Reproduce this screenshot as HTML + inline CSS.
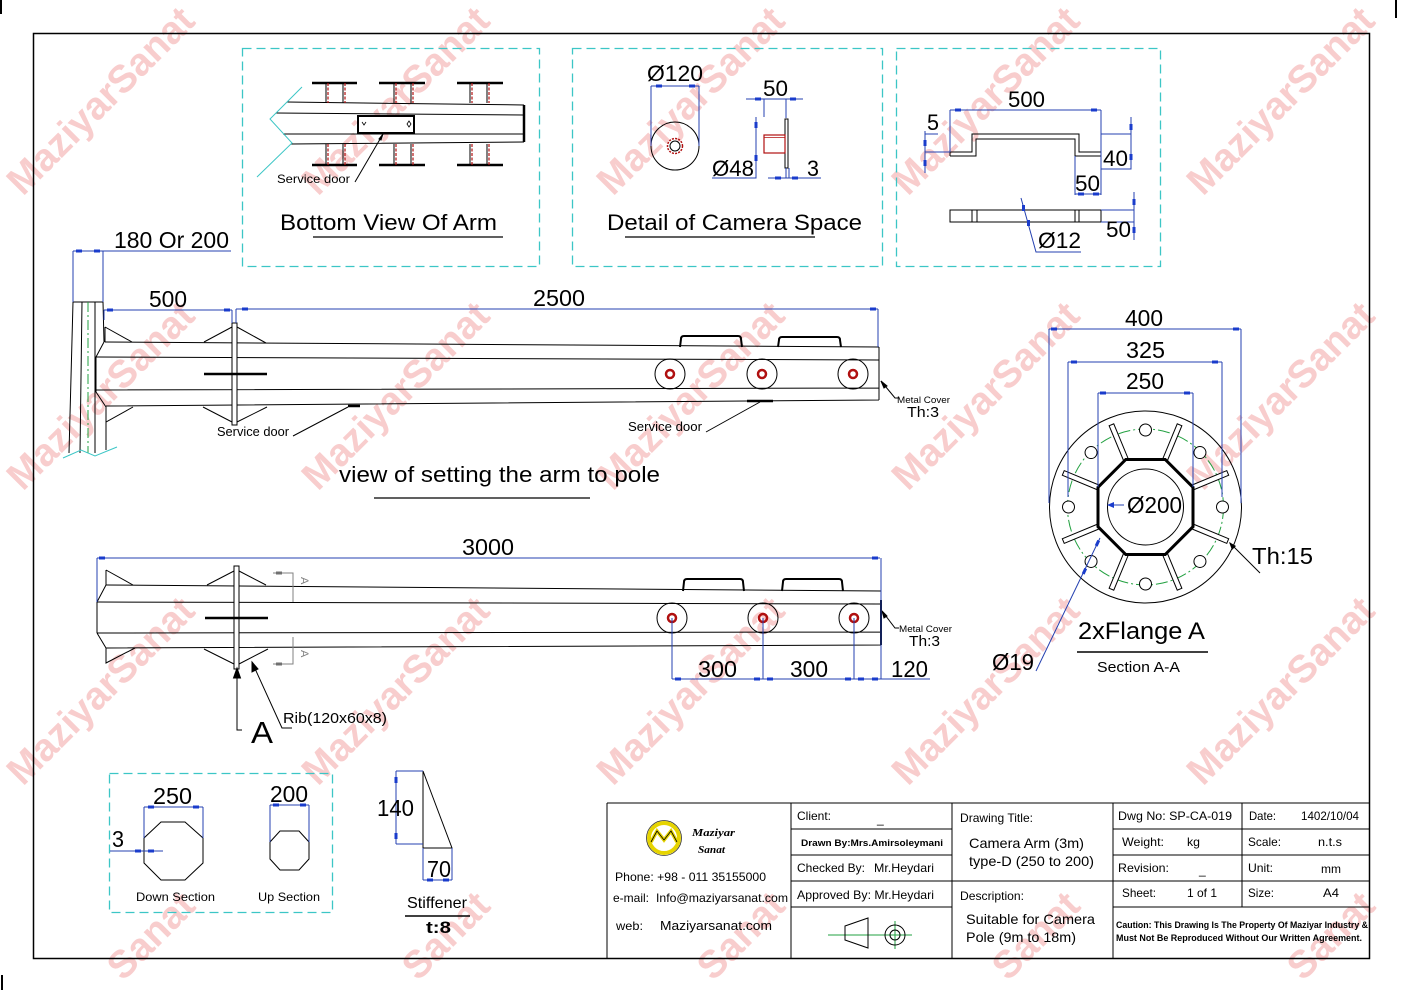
<!DOCTYPE html>
<html><head><meta charset="utf-8">
<style>
html,body{margin:0;padding:0;background:#fff;width:1403px;height:992px;overflow:hidden;}
svg{display:block;}
text{font-family:"Liberation Sans",Arial,sans-serif;fill:#000;}
.k{stroke:#000;fill:none;stroke-width:1}
.b{stroke:#2440b0;fill:none;stroke-width:1}
.c{stroke:#3cc6c6;fill:none;stroke-width:1.3;stroke-dasharray:9 5}
.t{fill:#1a3ccc;stroke:none}
.r{stroke:#b01010;fill:none}
.wm text{font-family:"Liberation Sans",Arial,sans-serif;font-weight:bold;fill:#f8cdcd;}
</style></head><body>
<svg width="1403" height="992" viewBox="0 0 1403 992" xmlns="http://www.w3.org/2000/svg">
<rect width="1403" height="992" fill="#fff"/>

<!-- watermarks -->
<g class="wm" font-size="39" text-anchor="middle">
<text x="100" y="114" transform="rotate(-45 100 100)" textLength="246" lengthAdjust="spacingAndGlyphs">MaziyarSanat</text>
<text x="395" y="114" transform="rotate(-45 395 100)" textLength="246" lengthAdjust="spacingAndGlyphs">MaziyarSanat</text>
<text x="690" y="114" transform="rotate(-45 690 100)" textLength="246" lengthAdjust="spacingAndGlyphs">MaziyarSanat</text>
<text x="985" y="114" transform="rotate(-45 985 100)" textLength="246" lengthAdjust="spacingAndGlyphs">MaziyarSanat</text>
<text x="1280" y="114" transform="rotate(-45 1280 100)" textLength="246" lengthAdjust="spacingAndGlyphs">MaziyarSanat</text>
<text x="100" y="409" transform="rotate(-45 100 395)" textLength="246" lengthAdjust="spacingAndGlyphs">MaziyarSanat</text>
<text x="395" y="409" transform="rotate(-45 395 395)" textLength="246" lengthAdjust="spacingAndGlyphs">MaziyarSanat</text>
<text x="690" y="409" transform="rotate(-45 690 395)" textLength="246" lengthAdjust="spacingAndGlyphs">MaziyarSanat</text>
<text x="985" y="409" transform="rotate(-45 985 395)" textLength="246" lengthAdjust="spacingAndGlyphs">MaziyarSanat</text>
<text x="1280" y="409" transform="rotate(-45 1280 395)" textLength="246" lengthAdjust="spacingAndGlyphs">MaziyarSanat</text>
<text x="100" y="704" transform="rotate(-45 100 690)" textLength="246" lengthAdjust="spacingAndGlyphs">MaziyarSanat</text>
<text x="395" y="704" transform="rotate(-45 395 690)" textLength="246" lengthAdjust="spacingAndGlyphs">MaziyarSanat</text>
<text x="690" y="704" transform="rotate(-45 690 690)" textLength="246" lengthAdjust="spacingAndGlyphs">MaziyarSanat</text>
<text x="985" y="704" transform="rotate(-45 985 690)" textLength="246" lengthAdjust="spacingAndGlyphs">MaziyarSanat</text>
<text x="1280" y="704" transform="rotate(-45 1280 690)" textLength="246" lengthAdjust="spacingAndGlyphs">MaziyarSanat</text>
</g>
<g class="wm" font-size="39" text-anchor="start">
<text x="123" y="982" transform="rotate(-45 123 982)" textLength="105" lengthAdjust="spacingAndGlyphs">Sanat</text>
<text x="418" y="982" transform="rotate(-45 418 982)" textLength="105" lengthAdjust="spacingAndGlyphs">Sanat</text>
<text x="713" y="982" transform="rotate(-45 713 982)" textLength="105" lengthAdjust="spacingAndGlyphs">Sanat</text>
<text x="1008" y="982" transform="rotate(-45 1008 982)" textLength="105" lengthAdjust="spacingAndGlyphs">Sanat</text>
<text x="1303" y="982" transform="rotate(-45 1303 982)" textLength="105" lengthAdjust="spacingAndGlyphs">Sanat</text>
</g>

<!-- frame and corner marks -->
<rect x="33.5" y="33.5" width="1336" height="925" fill="none" stroke="#000" stroke-width="1.5"/>
<path d="M1,0 V14 M1396,0 V18 M2,975 V990" stroke="#000" stroke-width="2"/>

<!-- ===== Panel 1: Bottom View Of Arm ===== -->
<rect x="242.5" y="48.5" width="297" height="218" class="c"/>
<g class="k">
<path d="M312,83 H357 M379,83 H425 M457,83 H503 M312,165 H357 M379,165 H425 M457,165 H503" stroke-width="2.5"/>
<path d="M326,83 V103 M343,83 V103 M394,83 V103 M411,83 V103 M470,83 V103 M487,83 V103 M326,144 V165 M343,144 V165 M394,144 V165 M411,144 V165 M470,144 V165 M487,144 V165"/>
<path d="M287,102 L524,105 M276,113 L524,115 M283,134 L524,134 M291,144 L524,142"/>
<path d="M524,105 V142" stroke-width="2.5"/>
<rect x="358" y="116" width="56" height="17" fill="#fff" stroke-width="2"/>
<path d="M362,122 L364,125 L366,122 M409,121 L411,124 L409,127 L407,124 Z" stroke-width="0.8"/>
<path d="M383,134 L355,182"/>
<path d="M383,134 L379,139 L381,140 Z" fill="#000"/>
</g>
<path d="M328,83 V103 M345,83 V103 M396,83 V103 M413,83 V103 M472,83 V103 M489,83 V103 M328,144 V165 M345,144 V165 M396,144 V165 M413,144 V165 M472,144 V165 M489,144 V165" class="r" stroke-width="1.2" stroke-dasharray="3 1.5"/>
<path d="M302,87 L270,119 L292,143 L257,177" fill="none" stroke="#3cc6c6" stroke-width="1"/>
<text x="277" y="183" font-size="12" textLength="73" lengthAdjust="spacingAndGlyphs">Service door</text>
<text x="280" y="230" font-size="22" textLength="217" lengthAdjust="spacingAndGlyphs">Bottom View Of Arm</text>
<path d="M313,237 H503" stroke="#000" stroke-width="1.2"/>

<!-- ===== Panel 2: Detail of Camera Space ===== -->
<rect x="572.5" y="48.5" width="310" height="218" class="c"/>
<g class="k">
<circle cx="675" cy="146" r="24"/>
<circle cx="675" cy="146" r="5"/>
<rect x="785" y="119" width="3" height="49" fill="#fff"/>
</g>
<circle cx="675" cy="146" r="7.5" class="r" stroke-width="1.5" stroke-dasharray="2 1.2"/>
<rect x="764" y="135" width="21" height="18" class="r" stroke-width="1.2"/>
<path d="M764,137.5 H785" class="r" stroke-width="0.8"/>
<g class="b">
<path d="M651,86 H699 M651,86 V146 M699,86 V146"/>
<path d="M746,99 H803 M764,99 V117 M786,99 V118"/>
<path d="M756,117 V178 H712"/>
<path d="M768,178 H821 M786,168 V178 M789,168 V178"/>
</g>
<g class="t">
<rect x="656" y="84.5" width="6" height="3"/><rect x="689" y="84.5" width="6" height="3"/>
<rect x="755" y="97.5" width="6" height="3"/><rect x="790" y="97.5" width="6" height="3"/>
<rect x="754.5" y="122" width="3" height="6"/><rect x="754.5" y="155" width="3" height="6"/>
<rect x="775" y="176.5" width="6" height="3"/><rect x="792" y="176.5" width="6" height="3"/>
</g>
<text x="647" y="81" font-size="22" textLength="56" lengthAdjust="spacingAndGlyphs">Ø120</text>
<text x="763" y="96" font-size="22" textLength="25" lengthAdjust="spacingAndGlyphs">50</text>
<text x="712" y="176" font-size="22" textLength="42" lengthAdjust="spacingAndGlyphs">Ø48</text>
<text x="807" y="176" font-size="22" textLength="12" lengthAdjust="spacingAndGlyphs">3</text>
<text x="607" y="230" font-size="22" textLength="255" lengthAdjust="spacingAndGlyphs">Detail of Camera Space</text>
<path d="M625,237 H815" stroke="#000" stroke-width="1.2"/>

<!-- ===== Panel 3: bracket ===== -->
<rect x="896.5" y="48.5" width="264" height="218" class="c"/>
<g class="k">
<path d="M950,152 H972 V134 H1079 V152 H1101 M950,156 H976 V139 H1075 V156 H1101 M950,152 V156 M1101,152 V156"/>
<rect x="950" y="210" width="151" height="12"/>
<path d="M972,210 V222 M977,210 V222 M1075,210 V222 M1079,210 V222"/>
</g>
<g class="b">
<path d="M950,110 H1101 M950,110 V152 M1101,110 V195"/>
<path d="M925,131 V173 M925,134 H938 M925,152 H950"/>
<path d="M1131,117 V169 H1101 M1101,134 H1131"/>
<path d="M1075,156 V195 M1075,194 H1101"/>
<path d="M1021,198 L1036,252 H1081"/>
<path d="M1134,192 V240 M1101,210 H1134 M1101,222 H1134"/>
</g>
<g class="t">
<rect x="955" y="108.5" width="6" height="3"/><rect x="1091" y="108.5" width="6" height="3"/>
<rect x="923.5" y="140" width="3" height="6"/><rect x="923.5" y="160" width="3" height="6"/>
<rect x="1129.5" y="124" width="3" height="6"/><rect x="1129.5" y="154" width="3" height="6"/>
<rect x="1078" y="192.5" width="6" height="3"/><rect x="1093" y="192.5" width="6" height="3"/>
<rect x="1022" y="205" width="3" height="6"/><rect x="1027" y="220" width="3" height="6"/>
<rect x="1132.5" y="199" width="3" height="6"/><rect x="1132.5" y="227" width="3" height="6"/>
</g>
<text x="1008" y="107" font-size="22" textLength="37" lengthAdjust="spacingAndGlyphs">500</text>
<text x="927" y="130" font-size="22" textLength="12" lengthAdjust="spacingAndGlyphs">5</text>
<text x="1103" y="166" font-size="22" textLength="25" lengthAdjust="spacingAndGlyphs">40</text>
<text x="1075" y="191" font-size="22" textLength="25" lengthAdjust="spacingAndGlyphs">50</text>
<text x="1038" y="248" font-size="22" textLength="43" lengthAdjust="spacingAndGlyphs">Ø12</text>
<text x="1106" y="237" font-size="22" textLength="25" lengthAdjust="spacingAndGlyphs">50</text>

<!-- ===== View 1: setting arm to pole ===== -->
<g class="k">
<path d="M73,302 L69,453 M82,302 L80,453 M95,302 L95,453 M73,302 H103 M103,302 L104,342 L96,357 L96,392 L106,407 L106,450"/>
<path d="M105,327 V342 M105,327 L132,342 M106,407 V422 L133,407"/>
<path d="M105,342 L879,347 M96,357 L879,360 M96,390 L879,388 M106,406 L879,400 M879,347 V400"/>
<path d="M204,342 L232,327 M237,327 L266,343 M203,407 L232,422 M237,422 L267,407"/>
<rect x="232" y="323" width="5" height="102" fill="#fff"/>
<path d="M204,374 H267" stroke-width="2.5"/>
<path d="M680,347 L681,339 Q681,336 684,336 H738 Q741,336 741,339 L742,347 M778,347 L779,340 Q779,337 782,337 H837 Q840,337 840,340 L841,347" stroke-width="2"/>
<circle cx="670" cy="374" r="15"/><circle cx="762" cy="374" r="15"/><circle cx="853" cy="374" r="15"/>
<path d="M293,436 L348,407 M706,432 L760,402 M881,381 L895,398 H899"/>
<path d="M348,406 H360 M747,401 H773" stroke-width="2.5"/>
<path d="M881,381 L884,388 L887,386 Z" fill="#000"/>
</g>
<g class="r" stroke-width="2.5">
<circle cx="670" cy="374" r="4"/><circle cx="762" cy="374" r="4"/><circle cx="853" cy="374" r="4"/>
</g>
<path d="M88,302 V453" stroke="#22a040" stroke-dasharray="10 3 2 3" fill="none"/>
<path d="M63,458 L81,450 L95,456 L117,447" fill="none" stroke="#3cc6c6"/>
<g class="b">
<path d="M73,251 H231 M73,251 V302 M103,251 V302"/>
<path d="M104,310 H232 M104,310 V320 M232,310 V323"/>
<path d="M236,309 H878 M236,309 V323 M878,309 V347"/>
</g>
<g class="t">
<rect x="76" y="249.5" width="6" height="3"/><rect x="94" y="249.5" width="6" height="3"/>
<rect x="107" y="308.5" width="6" height="3"/><rect x="224" y="308.5" width="6" height="3"/>
<rect x="242" y="307.5" width="6" height="3"/><rect x="870" y="307.5" width="6" height="3"/>
</g>
<text x="114" y="248" font-size="23" textLength="115" lengthAdjust="spacingAndGlyphs">180 Or 200</text>
<text x="149" y="307" font-size="23" textLength="38" lengthAdjust="spacingAndGlyphs">500</text>
<text x="533" y="306" font-size="23" textLength="52" lengthAdjust="spacingAndGlyphs">2500</text>
<text x="217" y="436" font-size="12.5" textLength="72" lengthAdjust="spacingAndGlyphs">Service door</text>
<text x="628" y="431" font-size="12.5" textLength="74" lengthAdjust="spacingAndGlyphs">Service door</text>
<text x="897" y="403" font-size="9.5" textLength="53" lengthAdjust="spacingAndGlyphs">Metal Cover</text>
<text x="907" y="417" font-size="15" textLength="32" lengthAdjust="spacingAndGlyphs">Th:3</text>
<text x="339" y="482" font-size="22" textLength="321" lengthAdjust="spacingAndGlyphs">view of setting the arm to pole</text>
<path d="M374,498 H590" stroke="#000" stroke-width="1.2"/>

<!-- ===== View 2: 3000 ===== -->
<g class="k">
<path d="M97,602 V633 M97,602 L106,585 M97,633 L106,648"/>
<path d="M106,585 L881,591 M97,602 L881,604 M97,633 L881,632 M106,648 L881,645 M881,591 V645"/>
<path d="M881,600 V645" stroke-width="2"/>
<path d="M106,570 V585 M106,570 L133,585 M106,648 V663 L135,648"/>
<path d="M207,585 L234,571 M239,571 L266,585 M204,649 L234,664 M239,664 L268,649"/>
<rect x="234" y="566" width="5" height="103" fill="#fff"/>
<path d="M205,618 H268" stroke-width="2.5"/>
<path d="M683,591 L684,582 Q684,579 687,579 H740 Q743,579 743,582 L744,591 M782,591 L783,582 Q783,579 786,579 H839 Q842,579 842,582 L843,591" stroke-width="2"/>
<circle cx="672" cy="618" r="15"/><circle cx="763" cy="618" r="15"/><circle cx="854" cy="618" r="15"/>
<path d="M237,676 V730 H242"/>
<path d="M237,668 L233.5,678 H240.5 Z" fill="#000"/>
<path d="M252,662 L282,728 H292"/>
<path d="M252,662 L252,672 L258,669 Z" fill="#000"/>
<path d="M882,611 L895,628 H899"/>
<path d="M882,611 L884,618 L887,616 Z" fill="#000"/>
</g>
<g class="r" stroke-width="2.5">
<circle cx="672" cy="618" r="4"/><circle cx="763" cy="618" r="4"/><circle cx="854" cy="618" r="4"/>
</g>
<g stroke="#808080" fill="none">
<path d="M273,573 H293 V602 M273,664 H293 V637"/>
</g>
<g fill="#707070"><rect x="276" y="571.5" width="6" height="3"/><rect x="276" y="662.5" width="6" height="3"/></g>
<text x="296" y="582" font-size="11" transform="rotate(90 301 582)" style="fill:#808080">A</text>
<text x="296" y="655" font-size="11" transform="rotate(90 301 655)" style="fill:#808080">A</text>
<g class="b">
<path d="M97,558 H880 M97,558 V602 M881,558 V679"/>
<path d="M672,618 V679 M763,618 V679 M854,618 V679 M672,679 H930"/>
</g>
<g class="t">
<rect x="99" y="556.5" width="6" height="3"/><rect x="872" y="556.5" width="6" height="3"/>
<rect x="675" y="677.5" width="6" height="3"/><rect x="754" y="677.5" width="6" height="3"/>
<rect x="767" y="677.5" width="6" height="3"/><rect x="845" y="677.5" width="6" height="3"/>
<rect x="858" y="677.5" width="6" height="3"/><rect x="872" y="677.5" width="6" height="3"/>
</g>
<text x="462" y="555" font-size="23" textLength="52" lengthAdjust="spacingAndGlyphs">3000</text>
<text x="698" y="677" font-size="23" textLength="39" lengthAdjust="spacingAndGlyphs">300</text>
<text x="790" y="677" font-size="23" textLength="38" lengthAdjust="spacingAndGlyphs">300</text>
<text x="891" y="677" font-size="23" textLength="37" lengthAdjust="spacingAndGlyphs">120</text>
<text x="899" y="632" font-size="9.5" textLength="53" lengthAdjust="spacingAndGlyphs">Metal Cover</text>
<text x="909" y="646" font-size="15" textLength="31" lengthAdjust="spacingAndGlyphs">Th:3</text>
<text x="251" y="743" font-size="31" textLength="22" lengthAdjust="spacingAndGlyphs">A</text>
<text x="283" y="723" font-size="15" textLength="104" lengthAdjust="spacingAndGlyphs">Rib(120x60x8)</text>

<!-- ===== Flange A ===== -->
<g class="k">
<circle cx="1145.5" cy="507" r="96"/>
</g>
<circle cx="1145.5" cy="507" r="78" fill="none" stroke="#22a040" stroke-dasharray="12 3 2 3"/>
<g class="k" transform="translate(1145.5,507)">
<rect x="51" y="-2.5" width="38" height="5" transform="rotate(-67.5)" fill="#fff"/>
<rect x="51" y="-2.5" width="38" height="5" transform="rotate(-22.5)" fill="#fff"/>
<rect x="51" y="-2.5" width="38" height="5" transform="rotate(22.5)" fill="#fff"/>
<rect x="51" y="-2.5" width="38" height="5" transform="rotate(67.5)" fill="#fff"/>
<rect x="51" y="-2.5" width="38" height="5" transform="rotate(112.5)" fill="#fff"/>
<rect x="51" y="-2.5" width="38" height="5" transform="rotate(157.5)" fill="#fff"/>
<rect x="51" y="-2.5" width="38" height="5" transform="rotate(202.5)" fill="#fff"/>
<rect x="51" y="-2.5" width="38" height="5" transform="rotate(247.5)" fill="#fff"/>
<circle cx="77" cy="0" r="6" transform="rotate(0)" fill="#fff"/>
<circle cx="77" cy="0" r="6" transform="rotate(45)" fill="#fff"/>
<circle cx="77" cy="0" r="6" transform="rotate(90)" fill="#fff"/>
<circle cx="77" cy="0" r="6" transform="rotate(135)" fill="#fff"/>
<circle cx="77" cy="0" r="6" transform="rotate(180)" fill="#fff"/>
<circle cx="77" cy="0" r="6" transform="rotate(225)" fill="#fff"/>
<circle cx="77" cy="0" r="6" transform="rotate(270)" fill="#fff"/>
<circle cx="77" cy="0" r="6" transform="rotate(315)" fill="#fff"/>
<polygon points="-19.7,-47.5 19.7,-47.5 47.5,-19.7 47.5,19.7 19.7,47.5 -19.7,47.5 -47.5,19.7 -47.5,-19.7" fill="#fff" stroke-width="3"/>
<circle cx="0" cy="0" r="38"/>
</g>
<g class="b">
<path d="M1049,329 H1241 M1049,329 V503 M1241,329 V503"/>
<path d="M1068,362 H1222 M1068,362 V497 M1222,362 V497"/>
<path d="M1098,393 H1193 M1098,393 V487 M1193,393 V487"/>
<path d="M1110,505 H1124"/>
<path d="M1100,538 L1036,671"/>
</g>
<path d="M1107,505 L1114,502 L1114,508 Z" fill="#1a3ccc"/>
<g class="t">
<rect x="1051" y="327.5" width="6" height="3"/><rect x="1233" y="327.5" width="6" height="3"/>
<rect x="1071" y="360.5" width="6" height="3"/><rect x="1212" y="360.5" width="6" height="3"/>
<rect x="1100" y="391.5" width="6" height="3"/><rect x="1184" y="391.5" width="6" height="3"/>
<rect x="1096" y="540" width="3" height="6" transform="rotate(25 1097 543)"/>
<rect x="1083" y="568" width="3" height="6" transform="rotate(25 1084 571)"/>
</g>
<path d="M1230,543 L1260,573" stroke="#000" fill="none"/>
<path d="M1229,542 L1232,550 L1236,546 Z" fill="#000"/>
<text x="1125" y="326" font-size="23" textLength="38" lengthAdjust="spacingAndGlyphs">400</text>
<text x="1126" y="358" font-size="23" textLength="39" lengthAdjust="spacingAndGlyphs">325</text>
<text x="1126" y="389" font-size="23" textLength="38" lengthAdjust="spacingAndGlyphs">250</text>
<text x="1127" y="513" font-size="23" textLength="55" lengthAdjust="spacingAndGlyphs">Ø200</text>
<text x="1252" y="564" font-size="23" textLength="61" lengthAdjust="spacingAndGlyphs">Th:15</text>
<text x="992" y="670" font-size="23" textLength="42" lengthAdjust="spacingAndGlyphs">Ø19</text>
<text x="1078" y="639" font-size="24" textLength="127" lengthAdjust="spacingAndGlyphs">2xFlange A</text>
<path d="M1077,652 H1208" stroke="#000" stroke-width="1.5"/>
<text x="1097" y="672" font-size="15" textLength="83" lengthAdjust="spacingAndGlyphs">Section A-A</text>

<!-- ===== Bottom-left sections ===== -->
<rect x="109.5" y="773.5" width="223" height="139" class="c"/>
<g class="k" stroke-width="2">
<polygon points="161,822 185,822 203,838 203,863 185,880 161,880 144,863 144,838"/>
<polygon points="280,831 299,831 309,842 309,859 299,870 280,870 270,859 270,842"/>
</g>
<g class="b">
<path d="M144,807 H203 M144,807 V838 M203,807 V838"/>
<path d="M110,851 H163"/>
<path d="M270,805 H309 M270,805 V842 M309,805 V842"/>
</g>
<g class="t">
<rect x="148" y="805.5" width="6" height="3"/><rect x="193" y="805.5" width="6" height="3"/>
<rect x="135" y="849.5" width="6" height="3"/><rect x="148" y="849.5" width="6" height="3"/>
<rect x="273" y="803.5" width="6" height="3"/><rect x="300" y="803.5" width="6" height="3"/>
</g>
<text x="153" y="804" font-size="23" textLength="39" lengthAdjust="spacingAndGlyphs">250</text>
<text x="112" y="847" font-size="23" textLength="12" lengthAdjust="spacingAndGlyphs">3</text>
<text x="270" y="802" font-size="23" textLength="38" lengthAdjust="spacingAndGlyphs">200</text>
<text x="136" y="901" font-size="12" textLength="79" lengthAdjust="spacingAndGlyphs">Down Section</text>
<text x="258" y="901" font-size="12" textLength="62" lengthAdjust="spacingAndGlyphs">Up Section</text>

<!-- Stiffener -->
<g class="k">
<path d="M423,771 V848 H452 Z M423,771 L452,848"/>
</g>
<g class="b">
<path d="M396,771 V844 M396,771 H423 M396,844 H423"/>
<path d="M423,848 V880 M452,848 V880 M423,880 H452"/>
</g>
<g class="t">
<rect x="394.5" y="777" width="3" height="6"/><rect x="394.5" y="833" width="3" height="6"/>
<rect x="427" y="878.5" width="6" height="3"/><rect x="443" y="878.5" width="6" height="3"/>
</g>
<text x="377" y="816" font-size="23" textLength="37" lengthAdjust="spacingAndGlyphs">140</text>
<text x="427" y="877" font-size="23" textLength="24" lengthAdjust="spacingAndGlyphs">70</text>
<text x="407" y="908" font-size="16" textLength="60" lengthAdjust="spacingAndGlyphs">Stiffener</text>
<path d="M405,916 H470" stroke="#000" stroke-width="1.5"/>
<text x="426" y="933" font-size="17" font-weight="bold" textLength="25" lengthAdjust="spacingAndGlyphs">t:8</text>

<!-- ===== Title block ===== -->
<g stroke="#000" stroke-width="1" fill="none">
<path d="M607,803 H1369 M607,803 V958"/>
<path d="M791,803 V958 M952,803 V958 M1113,803 V958 M1242,803 V907"/>
<path d="M791,829 H952 M791,855 H952 M791,881 H952 M791,907 H952"/>
<path d="M952,881 H1113"/>
<path d="M1113,829 H1369 M1113,855 H1369 M1113,881 H1369 M1113,907 H1369"/>
</g>
<!-- logo -->
<circle cx="664" cy="838" r="15" fill="none" stroke="#e6d400" stroke-width="4"/>
<circle cx="664" cy="838" r="17.5" fill="none" stroke="#333" stroke-width="0.8"/>
<path d="M651,842 L657,831 L664,840 L671,831 L677,842" fill="none" stroke="#e6d400" stroke-width="3.5"/>
<path d="M651,842 L657,831 L664,840 L671,831 L677,842" fill="none" stroke="#000" stroke-width="0.8"/>
<text x="692" y="836" font-size="11" font-style="italic" font-weight="bold" textLength="43" lengthAdjust="spacingAndGlyphs" style="font-family:'Liberation Serif',serif">Maziyar</text>
<text x="698" y="853" font-size="11" font-style="italic" font-weight="bold" textLength="27" lengthAdjust="spacingAndGlyphs" style="font-family:'Liberation Serif',serif">Sanat</text>
<text x="615" y="881" font-size="12" textLength="151" lengthAdjust="spacingAndGlyphs">Phone: +98 - 011 35155000</text>
<text x="613" y="902" font-size="12" textLength="36" lengthAdjust="spacingAndGlyphs">e-mail:</text>
<text x="656" y="902" font-size="12" textLength="132" lengthAdjust="spacingAndGlyphs">Info@maziyarsanat.com</text>
<text x="616" y="930" font-size="12" textLength="27" lengthAdjust="spacingAndGlyphs">web:</text>
<text x="660" y="930" font-size="12.5" textLength="112" lengthAdjust="spacingAndGlyphs">Maziyarsanat.com</text>

<text x="797" y="820" font-size="12" textLength="34" lengthAdjust="spacingAndGlyphs">Client:</text>
<text x="877" y="823" font-size="12">_</text>
<text x="801" y="846" font-size="9.5" font-weight="bold" textLength="142" lengthAdjust="spacingAndGlyphs">Drawn By:Mrs.Amirsoleymani</text>
<text x="797" y="872" font-size="12" textLength="68" lengthAdjust="spacingAndGlyphs">Checked By:</text>
<text x="874" y="872" font-size="12" textLength="60" lengthAdjust="spacingAndGlyphs">Mr.Heydari</text>
<text x="797" y="899" font-size="12" textLength="137" lengthAdjust="spacingAndGlyphs">Approved By: Mr.Heydari</text>
<path d="M828,935 H912 M895,921 V949" stroke="#22a040" fill="none"/>
<path d="M845,926 L868,918 V948 L845,940 Z" fill="none" stroke="#000"/>
<circle cx="895" cy="935" r="10" fill="none" stroke="#000"/>
<circle cx="895" cy="935" r="5" fill="none" stroke="#000"/>

<text x="960" y="822" font-size="12" textLength="73" lengthAdjust="spacingAndGlyphs">Drawing Title:</text>
<text x="969" y="848" font-size="14" textLength="115" lengthAdjust="spacingAndGlyphs">Camera Arm (3m)</text>
<text x="969" y="866" font-size="14" textLength="125" lengthAdjust="spacingAndGlyphs">type-D (250 to 200)</text>
<text x="960" y="900" font-size="12" textLength="64" lengthAdjust="spacingAndGlyphs">Description:</text>
<text x="966" y="924" font-size="14" textLength="129" lengthAdjust="spacingAndGlyphs">Suitable for Camera</text>
<text x="966" y="942" font-size="14" textLength="110" lengthAdjust="spacingAndGlyphs">Pole (9m to 18m)</text>

<text x="1118" y="820" font-size="12" textLength="114" lengthAdjust="spacingAndGlyphs">Dwg No:  SP-CA-019</text>
<text x="1122" y="846" font-size="12" textLength="42" lengthAdjust="spacingAndGlyphs">Weight:</text>
<text x="1187" y="846" font-size="12" textLength="13" lengthAdjust="spacingAndGlyphs">kg</text>
<text x="1118" y="872" font-size="12" textLength="51" lengthAdjust="spacingAndGlyphs">Revision:</text>
<text x="1199" y="874" font-size="12">_</text>
<text x="1122" y="897" font-size="12" textLength="34" lengthAdjust="spacingAndGlyphs">Sheet:</text>
<text x="1187" y="897" font-size="12" textLength="30" lengthAdjust="spacingAndGlyphs">1 of 1</text>
<text x="1249" y="820" font-size="12" textLength="27" lengthAdjust="spacingAndGlyphs">Date:</text>
<text x="1301" y="820" font-size="12" textLength="58" lengthAdjust="spacingAndGlyphs">1402/10/04</text>
<text x="1248" y="846" font-size="12" textLength="33" lengthAdjust="spacingAndGlyphs">Scale:</text>
<text x="1318" y="846" font-size="12" textLength="24" lengthAdjust="spacingAndGlyphs">n.t.s</text>
<text x="1248" y="872" font-size="12" textLength="25" lengthAdjust="spacingAndGlyphs">Unit:</text>
<text x="1321" y="873" font-size="12" textLength="20" lengthAdjust="spacingAndGlyphs">mm</text>
<text x="1248" y="897" font-size="12" textLength="26" lengthAdjust="spacingAndGlyphs">Size:</text>
<text x="1323" y="897" font-size="12" textLength="16" lengthAdjust="spacingAndGlyphs">A4</text>
<text x="1116" y="928" font-size="9" font-weight="bold" textLength="252" lengthAdjust="spacingAndGlyphs">Caution: This Drawing Is The Property Of Maziyar Industry &amp;</text>
<text x="1116" y="941" font-size="9" font-weight="bold" textLength="246" lengthAdjust="spacingAndGlyphs">Must Not Be Reproduced Without Our Written Agreement.</text>
</svg>
</body></html>
